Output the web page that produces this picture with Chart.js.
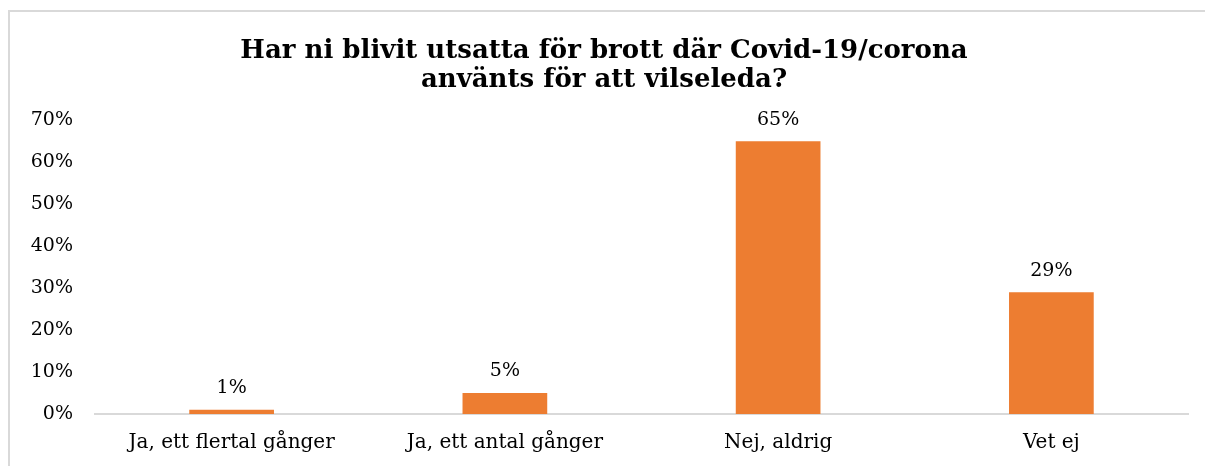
<!DOCTYPE html>
<html>
<head>
<meta charset="utf-8">
<script src="https://cdn.jsdelivr.net/npm/chart.js@4.4.1/dist/chart.umd.min.js"></script>
<style>
    html, body { margin: 0; padding: 0; background: #fff; overflow: hidden; }
    #wrap { position: relative; width: 1205px; height: 466px; overflow: hidden; }
    #frame {
        position: absolute; left: 8px; top: 10px; width: 1210px; height: 470px;
        border: 2px solid #d9d9d9; pointer-events: none; box-sizing: border-box;
    }
</style>
</head>
<body>
<div id="wrap">
    <canvas id="chart" width="1205" height="472"></canvas>
    <div id="frame"></div>
</div>
<script>
// ===================================
// Data
// ===================================
const categories = ['Ja, ett flertal gånger', 'Ja, ett antal gånger', 'Nej, aldrig', 'Vet ej'];
const shares = [1, 5, 65, 29];
const yTicks = [0, 10, 20, 30, 40, 50, 60, 70];
const titleLines = ['Har ni blivit utsatta för brott där Covid-19/corona', 'använts för att vilseleda?'];

const serif = "Georgia, 'DejaVu Serif', serif";

// Value labels above each bar
const barLabels = {
    id: 'barLabels',
    afterDatasetsDraw(chart) {
        const ctx = chart.ctx;
        const meta = chart.getDatasetMeta(0);
        ctx.save();
        ctx.font = '19px ' + serif;
        ctx.fillStyle = '#000';
        ctx.textAlign = 'center';
        ctx.textBaseline = 'bottom';
        meta.data.forEach((bar, i) => {
            ctx.fillText(shares[i] + '%', bar.x, bar.y - 12);
        });
        ctx.restore();
    }
};

const ctx = document.getElementById('chart').getContext('2d');
new Chart(ctx, {
    type: 'bar',
    data: {
        labels: categories,
        datasets: [{
            data: shares,
            backgroundColor: '#ED7D31',
            categoryPercentage: 1,
            barPercentage: 0.31
        }]
    },
    options: {
        responsive: false,
        animation: false,
        layout: { padding: { left: 20, right: 17, top: 0, bottom: 0 } },
        plugins: {
            legend: { display: false },
            tooltip: { enabled: false },
            title: {
                display: true,
                text: titleLines,
                color: '#000',
                font: { family: serif, size: 26, weight: 'bold', lineHeight: 1.12 },
                padding: { top: 37, bottom: 25 }
            }
        },
        scales: {
            x: {
                grid: { display: false, drawTicks: false },
                border: { color: '#d9d9d9', width: 2 },
                ticks: { color: '#000', font: { family: serif, size: 20 }, padding: 17, maxRotation: 0 }
            },
            y: {
                min: 0,
                max: 70,
                afterBuildTicks(scale) { scale.ticks = yTicks.map(v => ({ value: v })); },
                afterFit(scale) { scale.width = 75; },
                grid: { display: false, drawTicks: false },
                border: { display: false },
                ticks: {
                    color: '#000',
                    font: { family: serif, size: 19 },
                    padding: 22,
                    callback: v => v + '%'
                }
            }
        }
    },
    plugins: [barLabels]
});
</script>
</body>
</html>
